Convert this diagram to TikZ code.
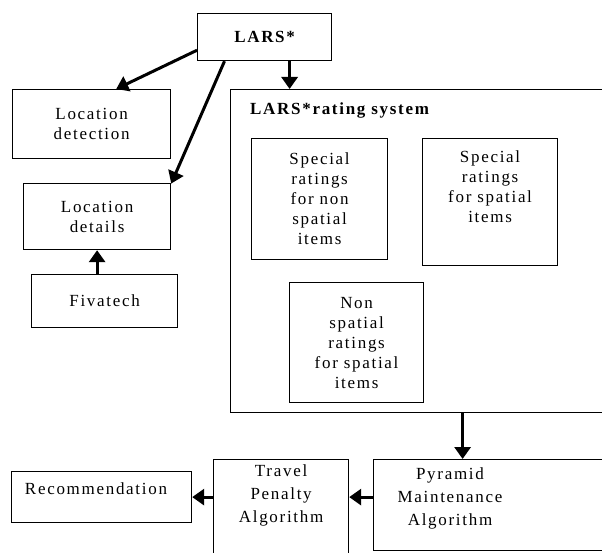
\documentclass[tikz,border=0pt]{standalone}
\usepackage{fontspec}
\setmainfont{Liberation Serif}[LetterSpace=10]
\usetikzlibrary{arrows.meta, positioning}

\begin{document}
\begin{tikzpicture}[
    x=1pt, y=-1pt,
    font=\fontsize{17}{20}\selectfont,
    box/.style={rectangle, draw, line width=1.2pt, anchor=north west, align=center, inner sep=0pt},
    title/.style={font=\fontsize{17}{20}\selectfont\bfseries},
    txt/.style={anchor=north, align=center, inner sep=0pt},
    algo/.style={txt, font=\fontsize{17}{23}\selectfont},
    arr/.style={-{Triangle[width=16pt, length=12pt]}, line width=3pt}
]
\useasboundingbox (0,0) rectangle (602,553);
\clip (0,0) rectangle (602,553);

\node[box, title, minimum width=134pt, minimum height=47pt] (lars) at (197,13) {LARS*};
\node[box, minimum width=158pt, minimum height=69pt] (detect) at (12,89) {Location\\detection};
\node[box, minimum width=147pt, minimum height=66pt] (details) at (23,183) {Location\\details};
\node[box, minimum width=146pt, minimum height=53pt] (fiva) at (31,274) {Fivatech};

% rating system
\node[box, minimum width=400pt, minimum height=323pt] (rating) at (230,89) {};
\node[title, anchor=base west, inner sep=0pt] (ratingT) at (250,115) {LARS*rating system};
\node[box, minimum width=136pt, minimum height=121pt] (sp1) at (251,138) {Special\\ratings\\for non\\spatial\\items};
\node[box, minimum width=135pt, minimum height=127pt] (sp2) at (422,138) {};
\node[txt, below=13pt of sp2.north] (sp2T) {Special\\ratings\\for spatial\\items};
\node[box, minimum width=134pt, minimum height=120pt] (nsp) at (289,282) {Non\\spatial\\ratings\\for spatial\\items};

% algorithms
\node[box, minimum width=250pt, minimum height=91pt] (pyr) at (373,459) {};
\node[algo] (pyrT) at (450,468) {Pyramid\\Maintenance\\Algorithm};
\node[box, minimum width=135pt, minimum height=101pt] (travel) at (213,459) {};
\node[algo, below=6pt of travel.north] (travelT) {Travel\\Penalty\\Algorithm};
\node[box, minimum width=180pt, minimum height=51pt] (rec) at (11,471) {};
\node[txt] (recT) at (96,483) {Recommendation};

\draw[arr] (lars.191) -- (detect.55);
\draw[arr] (lars.211) -- (details.24);
\draw[arr] ([xshift=25pt]lars.south) -- ([xshift=25pt]lars.south |- rating.north);
\draw[arr] (details.south |- fiva.north) -- (details.south);
\draw[arr] ([xshift=-36pt]pyr.north |- rating.south) -- ([xshift=-36pt]pyr.north);
\draw[arr] (pyr.west |- rec.east) -- (travel.east |- rec.east);
\draw[arr] (travel.west |- rec.east) -- (rec.east);

\end{tikzpicture}
\end{document}
